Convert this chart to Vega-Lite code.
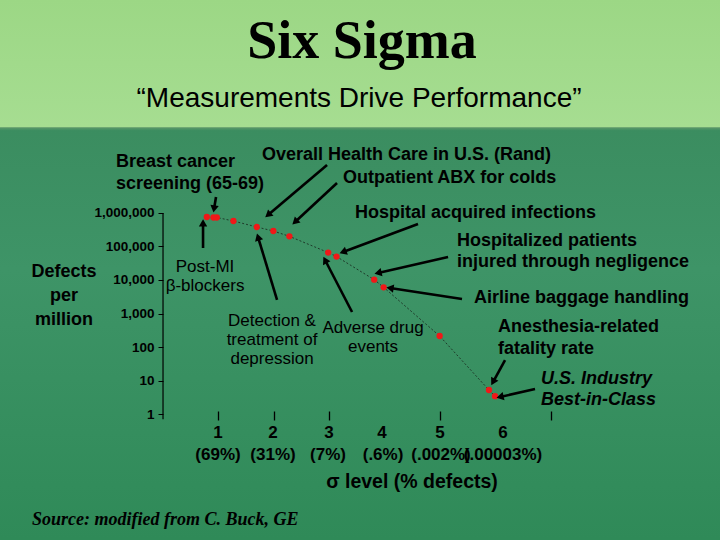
{
  "$schema": "https://vega.github.io/schema/vega-lite/v6.json",
  "width": 720,
  "height": 540,
  "autosize": {"type": "none"},
  "padding": 0,
  "background": "#3a8f63",
  "config": {
    "view": {
      "stroke": null,
      "fill": {
        "gradient": "linear",
        "x1": 0, "y1": 0, "x2": 0, "y2": 1,
        "stops": [
          {"offset": 0, "color": "#9cd785"},
          {"offset": 0.235, "color": "#a6dd91"},
          {"offset": 0.2365, "color": "#5a9668"},
          {"offset": 0.242, "color": "#3b8d60"},
          {"offset": 0.5, "color": "#3e9467"},
          {"offset": 1, "color": "#2f8a58"}
        ]
      }
    },
    "text": {"font": "Liberation Sans", "color": "#000000"}
  },
  "datasets": {
    "points": [
      {"s": 0.79, "v": 760000}, {"s": 0.91, "v": 735000}, {"s": 0.97, "v": 735000},
      {"s": 1.27, "v": 577000}, {"s": 1.69, "v": 382000}, {"s": 1.99, "v": 290000},
      {"s": 2.28, "v": 201000}, {"s": 2.98, "v": 66000}, {"s": 3.13, "v": 50000},
      {"s": 3.81, "v": 10200}, {"s": 3.98, "v": 6050}, {"s": 4.99, "v": 213},
      {"s": 5.88, "v": 5.2}, {"s": 5.99, "v": 3.4}
    ],
    "arrows": [
      {"s": 0.956, "v": 3000000, "s2": 0.92, "v2": 1320000},
      {"s": 2.959, "v": 27100000, "s2": 1.894, "v2": 871000},
      {"s": 3.139, "v": 7870000, "s2": 2.381, "v2": 538000},
      {"s": 4.6, "v": 470000, "s2": 3.247, "v2": 68500},
      {"s": 5.142, "v": 48600, "s2": 3.879, "v2": 16200},
      {"s": 5.394, "v": 2710, "s2": 4.095, "v2": 5770},
      {"s": 0.722, "v": 90200, "s2": 0.722, "v2": 503000},
      {"s": 2.057, "v": 2530, "s2": 1.714, "v2": 192000},
      {"s": 3.41, "v": 1110, "s2": 2.923, "v2": 39500},
      {"s": 6.17, "v": 40.9, "s2": 5.953, "v2": 9.0},
      {"s": 6.711, "v": 5.58, "s2": 6.08, "v2": 3.22}
    ],
    "yaxisline": [{"s": 0, "v": 0.7, "v2": 1000000}],
    "boldLabels": [
      {"t": "Overall Health Care in U.S. (Rand)", "s": 1.786, "v": 53900000},
      {"t": "Breast cancer", "s": -0.848, "v": 33300000},
      {"t": "screening (65-69)", "s": -0.848, "v": 7350000},
      {"t": "Outpatient ABX for colds", "s": 3.247, "v": 11100000},
      {"t": "Hospital acquired infections", "s": 3.464, "v": 967000},
      {"t": "Hospitalized patients", "s": 5.304, "v": 146000},
      {"t": "injured through negligence", "s": 5.304, "v": 34400},
      {"t": "Airline baggage handling", "s": 5.611, "v": 2900},
      {"t": "Anesthesia-related", "s": 6.044, "v": 395},
      {"t": "fatality rate", "s": 6.044, "v": 87.1}
    ],
    "italicLabels": [
      {"t": "U.S. Industry", "s": 6.819, "v": 11.1},
      {"t": "Best-in-Class", "s": 6.819, "v": 2.62}
    ],
    "plainLabels": [
      {"t": "Post-MI", "s": 0.758, "v": 24400},
      {"t": "β-blockers", "s": 0.758, "v": 6620},
      {"t": "Detection &", "s": 1.966, "v": 597},
      {"t": "treatment of", "s": 1.966, "v": 162},
      {"t": "depression", "s": 1.966, "v": 43.8},
      {"t": "Adverse drug", "s": 3.789, "v": 369},
      {"t": "events", "s": 3.789, "v": 100}
    ],
    "yTitle": [
      {"t": "Defects", "s": -1.786, "v": 17300},
      {"t": "per", "s": -1.786, "v": 3330},
      {"t": "million", "s": -1.786, "v": 640}
    ],
    "xLabels": [
      {"t": "1", "s": 0.992, "v": 0.271},
      {"t": "2", "s": 1.984, "v": 0.271},
      {"t": "3", "s": 2.995, "v": 0.271},
      {"t": "4", "s": 3.951, "v": 0.271},
      {"t": "5", "s": 4.997, "v": 0.271},
      {"t": "6", "s": 6.134, "v": 0.271},
      {"t": "(69%)", "s": 0.992, "v": 0.0597},
      {"t": "(31%)", "s": 1.984, "v": 0.0597},
      {"t": "(7%)", "s": 2.977, "v": 0.0597},
      {"t": "(.6%)", "s": 3.969, "v": 0.0597},
      {"t": "(.002%)", "s": 5.015, "v": 0.0597},
      {"t": "(.00003%)", "s": 6.134, "v": 0.0597}
    ],
    "xTitle": [{"t": "σ level (% defects)", "s": 4.492, "v": 0.00933}],
    "title": [{"t": "Six Sigma", "s": 3.59, "v": 42400000000}],
    "subtitle": [{"t": "“Measurements Drive Performance”", "s": 3.536, "v": 1460000000}],
    "source": [{"t": "Source:  modified from C. Buck, GE", "s": -2.363, "v": 0.000486}]
  },
  "encoding": {
    "x": {
      "field": "s", "type": "quantitative", "title": null,
      "scale": {"domain": [-2.941, 10.048], "nice": false, "zero": false},
      "axis": {
        "offset": -129, "values": [1, 2, 3, 5, 7], "zindex": 1,
        "labels": false, "domain": false, "grid": false,
        "tickSize": 9, "tickColor": "#000000", "tickWidth": 1.3
      }
    },
    "y": {
      "field": "v", "type": "quantitative", "title": null,
      "scale": {"type": "log", "domain": [0.0001734, 2280000000000], "nice": false},
      "axis": {
        "offset": -163, "zindex": 1,
        "values": [1, 10, 100, 1000, 10000, 100000, 1000000],
        "format": ",", "domain": false, "grid": false,
        "tickSize": 5, "tickColor": "#000000", "tickWidth": 1,
        "labelFont": "Liberation Sans", "labelFontWeight": "bold",
        "labelFontSize": 13.5, "labelColor": "#000000", "labelPadding": 4,
        "labelOverlap": false
      }
    }
  },
  "layer": [
    {
      "data": {"name": "yaxisline"},
      "mark": {"type": "rule", "color": "#000000", "strokeWidth": 1.2},
      "encoding": {"y2": {"field": "v2"}}
    },
    {
      "data": {"name": "points"},
      "mark": {"type": "line", "color": "#1f3a2a", "strokeWidth": 1, "strokeDash": [2, 2]},
      "encoding": {"order": {"field": "s", "type": "quantitative"}}
    },
    {
      "data": {"name": "points"},
      "mark": {"type": "circle", "color": "#f01818", "size": 40, "opacity": 1}
    },
    {
      "data": {"name": "arrows"},
      "mark": {"type": "rule", "color": "#000000", "strokeWidth": 2.6},
      "encoding": {"x2": {"field": "s2"}, "y2": {"field": "v2"}}
    },
    {
      "data": {"name": "arrows"},
      "transform": [
        {"calculate": "atan2((datum.s2 - datum.s) * 55.43, (log(datum.v2) - log(datum.v)) / LN10 * 33.5) * 180 / PI", "as": "ang"},
        {"calculate": "datum.s2", "as": "s"},
        {"calculate": "datum.v2", "as": "v"}
      ],
      "mark": {"type": "point", "shape": "triangle-up", "filled": true, "color": "#000000", "size": 70, "opacity": 1},
      "encoding": {
        "angle": {"field": "ang", "type": "quantitative", "scale": null}
      }
    },
    {
      "data": {"name": "boldLabels"},
      "mark": {"type": "text", "align": "left", "baseline": "middle", "fontWeight": "bold", "fontSize": 18},
      "encoding": {"text": {"field": "t"}}
    },
    {
      "data": {"name": "italicLabels"},
      "mark": {"type": "text", "align": "left", "baseline": "middle", "fontWeight": "bold", "fontStyle": "italic", "fontSize": 18},
      "encoding": {"text": {"field": "t"}}
    },
    {
      "data": {"name": "plainLabels"},
      "mark": {"type": "text", "align": "center", "baseline": "middle", "fontSize": 17},
      "encoding": {"text": {"field": "t"}}
    },
    {
      "data": {"name": "yTitle"},
      "mark": {"type": "text", "align": "center", "baseline": "middle", "fontWeight": "bold", "fontSize": 18},
      "encoding": {"text": {"field": "t"}}
    },
    {
      "data": {"name": "xLabels"},
      "mark": {"type": "text", "align": "center", "baseline": "middle", "fontWeight": "bold", "fontSize": 17},
      "encoding": {"text": {"field": "t"}}
    },
    {
      "data": {"name": "xTitle"},
      "mark": {"type": "text", "align": "center", "baseline": "middle", "fontWeight": "bold", "fontSize": 19.5},
      "encoding": {"text": {"field": "t"}}
    },
    {
      "data": {"name": "title"},
      "mark": {"type": "text", "align": "center", "baseline": "alphabetic", "font": "Liberation Serif", "fontWeight": "bold", "fontSize": 54},
      "encoding": {"text": {"field": "t"}}
    },
    {
      "data": {"name": "subtitle"},
      "mark": {"type": "text", "align": "center", "baseline": "alphabetic", "fontSize": 28},
      "encoding": {"text": {"field": "t"}}
    },
    {
      "data": {"name": "source"},
      "mark": {"type": "text", "align": "left", "baseline": "alphabetic", "font": "Liberation Serif", "fontWeight": "bold", "fontStyle": "italic", "fontSize": 18},
      "encoding": {"text": {"field": "t"}}
    }
  ]
}
